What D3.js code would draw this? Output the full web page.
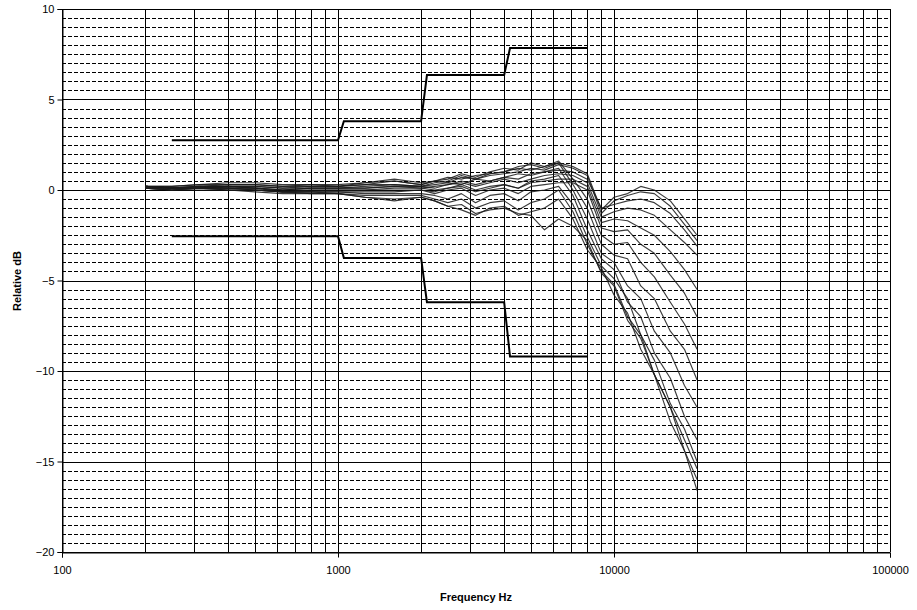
<!DOCTYPE html>
<html><head><meta charset="utf-8">
<script src="https://cdn.jsdelivr.net/npm/d3@7"></script>
<style>body{margin:0;background:#fff}svg{display:block}text{font-family:"Liberation Sans",Arial,sans-serif}</style>
</head><body><svg id="c" width="917" height="610"></svg>
<script>
const freqs = [200,250,315,400,500,630,800,1000,1250,1600,2000,2240,2500,2800,3150,3550,4000,4500,5000,5600,6300,7100,8000,9000,10000,11200,12500,14000,16000,18000,20000];
const c0  = [0.2,0.2,0.3,0.4,0.4,0.3,0.3,0.2,0.4,0.6, 0.4,0.5,0.7,0.6,0.8,0.9,1.0,1.2,1.1,1.3,1.5, 1.3,0.9,-1.1,-0.4,-0.2,0.2,0.0,-0.6,-1.6,-2.5];
const c1  = [0.2,0.1,0.2,0.3,0.3,0.2,0.2,0.2,0.3,0.5, 0.3,0.5,0.4,0.7,0.6,0.8,0.9,1.0,1.2,1.1,1.4, 1.2,0.8,-1.3,-0.6,-0.3,-0.1,-0.2,-0.9,-1.9,-2.8];
const c2  = [0.1,0.1,0.2,0.2,0.2,0.1,0.1,0.1,0.2,0.3, 0.2,0.3,0.4,0.3,0.6,0.5,0.7,0.9,0.8,1.0,1.1, 1.0,0.6,-1.0,-0.8,-0.6,-0.5,-0.7,-1.3,-2.2,-3.1];
const c3  = [0.2,0.1,0.1,0.2,0.1,0.0,0.1,0.1,0.1,0.2, 0.2,0.1,0.3,0.4,0.2,0.4,0.6,0.4,0.6,0.8,0.9, 0.8,0.4,-1.5,-1.2,-1.0,-1.1,-1.4,-2.2,-2.9,-3.6];
const c4  = [0.1,0.0,0.1,0.1,0.1,-0.1,0.0,0.0,0.0,0.1, 0.1,0.0,0.1,0.3,0.0,0.2,0.3,0.1,0.4,0.5,0.6, 0.6,0.2,-1.8,-1.6,-1.7,-2.1,-2.5,-3.4,-4.4,-5.5];
const c5  = [0.1,0.0,0.0,0.0,0.0,-0.1,-0.1,-0.1,-0.1,-0.1, 0.0,-0.2,0.0,0.1,-0.3,0.0,0.1,-0.2,0.2,0.3,0.4, 0.4,0.0,-2.1,-2.3,-2.2,-3.0,-3.5,-4.7,-5.7,-7.0];
const c6  = [0.2,0.2,0.3,0.3,0.3,0.2,0.3,0.3,0.4,0.5, 0.3,0.5,0.6,0.9,0.7,1.0,1.2,1.1,1.5,1.3,1.6, 0.6,-0.5,-2.5,-3.0,-2.9,-4.0,-4.8,-6.2,-7.4,-8.8];
const c7  = [0.2,0.1,0.2,0.2,0.2,0.1,0.2,0.2,0.3,0.3, 0.2,0.4,0.5,0.8,0.6,0.9,1.0,1.3,1.4,1.2,1.5, 0.3,-1.0,-3.0,-3.6,-3.8,-5.3,-6.0,-7.8,-8.8,-10.5];
const c8  = [0.1,0.1,0.1,0.2,0.1,0.0,0.1,0.1,0.1,0.2, 0.1,0.2,0.3,0.5,0.3,0.5,0.7,0.6,0.9,1.0,1.2, 0.0,-1.6,-3.5,-4.0,-5.3,-6.0,-7.8,-9.0,-10.8,-12.0];
const c9  = [0.2,0.1,0.1,0.1,0.1,0.0,0.0,0.0,0.0,0.0, 0.0,-0.1,0.1,0.2,-0.1,0.1,0.3,0.1,0.5,0.6,0.8, -0.3,-2.2,-3.8,-4.4,-6.2,-7.0,-9.0,-10.4,-12.5,-13.8];
const c10 = [0.1,0.0,0.1,0.1,0.0,-0.1,-0.1,-0.1,-0.2,-0.2, -0.2,-0.3,-0.5,-0.2,-0.7,-0.3,-0.2,-0.6,-0.1,0.0,0.2, -0.8,-2.6,-4.2,-4.9,-6.0,-8.0,-9.4,-11.8,-13.2,-15.0];
const c11 = [0.2,0.1,0.2,0.1,0.0,-0.1,-0.1,-0.2,-0.3,-0.3, -0.3,-0.5,-0.7,-0.5,-1.0,-0.7,-0.6,-1.1,-0.7,-0.5,0.0, -1.2,-3.0,-4.5,-5.2,-7.0,-8.0,-10.2,-12.0,-14.4,-16.0];
const c12 = [0.1,0.0,0.1,0.0,0.0,-0.1,-0.2,-0.2,-0.4,-0.5, -0.4,-0.6,-0.9,-1.1,-1.4,-1.0,-0.9,-1.4,-1.2,-1.0,-0.5, -1.6,-3.3,-4.3,-5.8,-6.8,-8.8,-10.2,-12.8,-14.4,-16.6];
const c13 = [0.2,0.1,0.1,0.0,-0.1,-0.2,-0.2,-0.2,-0.4,-0.6, -0.4,-0.6,-0.9,-0.8,-1.3,-1.1,-1.0,-1.3,-1.4,-2.2,-1.6, -2.0,-2.8,-4.6,-5.3,-7.2,-8.2,-10.2,-12.0,-13.8,-15.4];
const curves = [c0,c1,c2,c3,c4,c5,c6,c7,c8,c9,c10,c11,c12,c13];

const upperF = [250,1000,1050,2000,2100,4000,4200,8000];
const upperV = [2.75,2.75,3.8,3.8,6.35,6.35,7.85,7.85];
const lowerF = [250,1000,1050,2000,2100,4000,4200,8000];
const lowerV = [-2.55,-2.55,-3.75,-3.75,-6.2,-6.2,-9.2,-9.2];

const xTicks = [100,1000,10000,100000];
const yTicks = [-20,-15,-10,-5,0,5,10];

const svg = d3.select("#c");
const L=62,R=890,T=9,B=552;
const x = d3.scaleLog().domain([100,100000]).range([L,R]);
const y = d3.scaleLinear().domain([-20,10]).range([B,T]);

const g = svg.append("g");
const minor = d3.range(-19.5,10,0.5).filter(v=>Math.abs(v%5)>0.01);
g.selectAll("line.hm").data(minor).enter().append("line")
 .attr("x1",L).attr("x2",R).attr("y1",d=>Math.round(y(d))+0.5).attr("y2",d=>Math.round(y(d))+0.5)
 .attr("stroke","#000").attr("stroke-width",1).attr("stroke-dasharray","4,2");
g.selectAll("line.hM").data(yTicks).enter().append("line")
 .attr("x1",L).attr("x2",R).attr("y1",d=>Math.round(y(d))+0.5).attr("y2",d=>Math.round(y(d))+0.5)
 .attr("stroke","#000").attr("stroke-width",1);
const vlines=[];
[100,1000,10000].forEach(d=>{for(let k=1;k<=9;k++) vlines.push(d*k);}); vlines.push(100000);
g.selectAll("line.v").data(vlines).enter().append("line")
 .attr("x1",d=>Math.round(x(d))+0.5).attr("x2",d=>Math.round(x(d))+0.5).attr("y1",T).attr("y2",B)
 .attr("stroke","#000").attr("stroke-width",1);

const line = d3.line().x((d,i)=>x(freqs[i])).y(d=>y(d));
g.selectAll("path.cv").data(curves).enter().append("path")
 .attr("d",d=>line(d)).attr("fill","none").attr("stroke","#1a1a1a").attr("stroke-width",1.15).attr("stroke-opacity",0.85).attr("stroke-linejoin","round");

const lim = d3.line().x(d=>x(d[0])).y(d=>y(d[1]));
[[upperF,upperV],[lowerF,lowerV]].forEach(([f,v])=>{
 g.append("path").attr("d",lim(f.map((d,i)=>[d,v[i]]))).attr("fill","none").attr("stroke","#000").attr("stroke-width",2);
});

const ya = d3.axisLeft(y).tickValues(yTicks).tickSize(5).tickPadding(3);
const yg = svg.append("g").attr("transform",`translate(${L+0.5},0)`).call(ya);
const xa = d3.axisBottom(x).tickValues(xTicks).tickFormat(d3.format("d")).tickSize(5).tickPadding(9);
const xg = svg.append("g").attr("transform",`translate(0,${B+0.5})`).call(xa);
[yg,xg].forEach(a=>{a.selectAll("path.domain").attr("stroke","#000");a.selectAll("line").attr("stroke","#000");
 a.selectAll("text").attr("font-size",11).attr("fill","#000").style("font-family","'Liberation Sans',Arial,sans-serif");});

svg.append("text").attr("x",476).attr("y",601).attr("text-anchor","middle").attr("font-size",11).attr("font-weight","bold").text("Frequency Hz");
svg.append("text").attr("transform","translate(21,281) rotate(-90)").attr("text-anchor","middle").attr("font-size",11).attr("font-weight","bold").text("Relative dB");
</script></body></html>
